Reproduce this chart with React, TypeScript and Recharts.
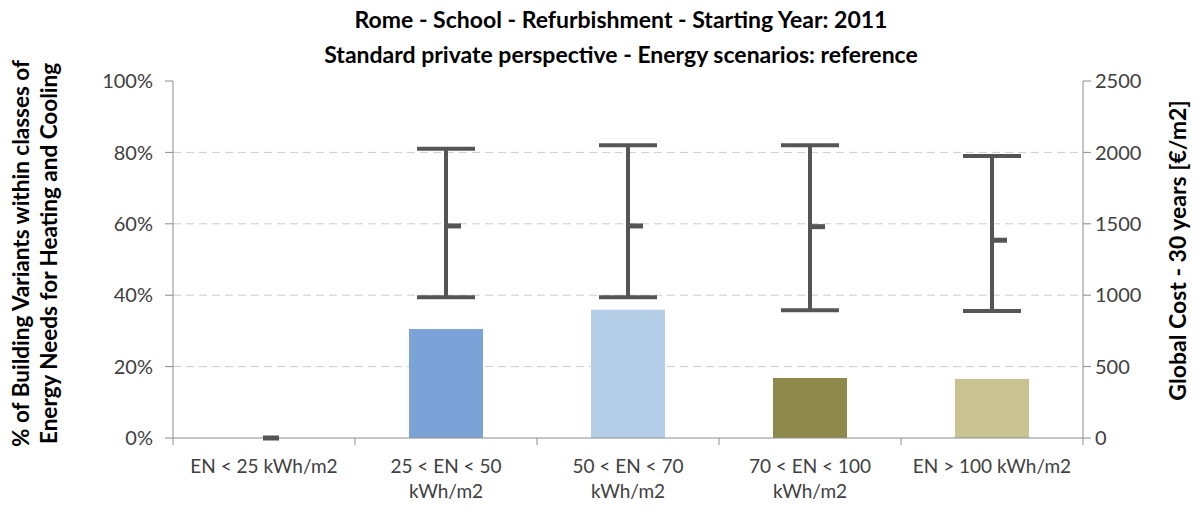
import React from 'react';
import { ComposedChart, Bar, Line, Cell, XAxis, YAxis, CartesianGrid, ErrorBar } from 'recharts';

// energy need classes (x axis)
const categories = ['EN < 25 kWh/m2', '25 < EN < 50 kWh/m2', '50 < EN < 70 kWh/m2', '70 < EN < 100 kWh/m2', 'EN > 100 kWh/m2'];
const tickLines = [['EN < 25 kWh/m2'], ['25 < EN < 50', 'kWh/m2'], ['50 < EN < 70', 'kWh/m2'], ['70 < EN < 100', 'kWh/m2'], ['EN > 100 kWh/m2']];

// % of building variants (left axis)
const sharePct = [0, 30.5, 35.9, 16.8, 16.5];
// global cost 30 years (right axis)
const costMean = [0, 1485, 1485, 1480, 1385];
const costMin = [null, 985, 985, 895, 890];
const costMax = [null, 2025, 2050, 2050, 1975];

const barColors = ['#8a8a8a', '#7ba3d8', '#b5cfe9', '#8e8a4b', '#c8c391'];
const leftTicks = [0, 20, 40, 60, 80, 100];
const rightTicks = [0, 500, 1000, 1500, 2000, 2500];

const FONT = 'Lato, "Open Sans", sans-serif';
const TEXT = '#404040';
const AXIS = '#8c8c8c';

const W = 1200;
const H = 518;
const MARGIN = { top: 81, right: 57, bottom: 20, left: 113 };
const Y_AXIS_W = 60;
const PLOT_W = W - MARGIN.left - MARGIN.right - 2 * Y_AXIS_W;

const data = categories.map((c, i) => ({
  cat: c,
  share: sharePct[i],
  mean: costMean[i],
  err: costMin[i] == null ? undefined : [costMean[i] - (costMin[i] as number), (costMax[i] as number) - costMean[i]],
}));

// category label plus the Excel style tick marks between categories
const CatTick = (props: any) => {
  const { x, y, payload, index } = props;
  const lines = tickLines[payload.index] || [payload.value];
  const half = PLOT_W / categories.length / 2;
  const y0 = MARGIN.top + (H - MARGIN.top - MARGIN.bottom - 60);
  return (
    <g>
      <line x1={x - half} x2={x - half} y1={y0} y2={y0 + 7} stroke={AXIS} />
      {index === categories.length - 1 && <line x1={x + half} x2={x + half} y1={y0} y2={y0 + 7} stroke={AXIS} />}
      <text x={x} y={y} textAnchor="middle" fill={TEXT} fontSize={19} fontFamily={FONT}>
        {lines.map((l, i) => (
          <tspan key={i} x={x} dy={i === 0 ? 27 : 25}>{l}</tspan>
        ))}
      </text>
    </g>
  );
};

// small dash marker for the mean, drawn right of the bar centre
const MeanDash = (props: any) => {
  const { cx, cy } = props;
  if (cx == null || cy == null) return null;
  return <rect x={cx - 1} y={cy - 2.5} width={16} height={5} fill="#555555" />;
};

const LeftLabel = (props: any) => {
  const vb = props.viewBox || {};
  const cy = vb.y + vb.height / 2 - 6;
  return (
    <g>
      <text transform={`translate(29 ${cy}) rotate(-90)`} textAnchor="middle" fontSize={22.5} fontWeight="bold" fontFamily={FONT} fill="#000">
        % of Building Variants within classes of
      </text>
      <text transform={`translate(57 ${cy}) rotate(-90)`} textAnchor="middle" fontSize={22.5} fontWeight="bold" fontFamily={FONT} fill="#000">
        Energy Needs for Heating and Cooling
      </text>
    </g>
  );
};

const RightLabel = (props: any) => {
  const vb = props.viewBox || {};
  const cy = vb.y + vb.height / 2 - 9;
  return (
    <text transform={`translate(1186 ${cy}) rotate(-90)`} textAnchor="middle" fontSize={23} fontWeight="bold" fontFamily={FONT} fill="#000">
      Global Cost - 30 years [€/m2]
    </text>
  );
};

const App: React.FC = () => {
  return (
    <div style={{ position: 'absolute', left: 0, top: 0, width: W, height: H, background: '#fff', fontFamily: FONT }}>
      <div style={{ position: 'absolute', left: 0, top: 2, width: 1242, textAlign: 'center', fontWeight: 'bold', fontSize: 23, lineHeight: '35px', color: '#000' }}>
        <div>Rome - School - Refurbishment - Starting Year: 2011</div>
        <div>Standard private perspective - Energy scenarios: reference</div>
      </div>
      <ComposedChart width={W} height={H} data={data} margin={MARGIN}>
        <CartesianGrid xAxisId="cat" yAxisId="left" vertical={false} horizontalValues={[20, 40, 60, 80]} stroke="#cccccc" strokeDasharray="8 5" />
        <XAxis xAxisId="cat" dataKey="cat" height={60} axisLine={{ stroke: AXIS }} tickLine={false} tick={<CatTick />} interval={0} />
        <YAxis yAxisId="left" width={Y_AXIS_W} domain={[0, 100]} ticks={leftTicks} tickFormatter={(v) => `${v}%`} axisLine={{ stroke: AXIS }} tickLine={{ stroke: AXIS }} tickSize={8} tickMargin={12} tick={{ fill: TEXT, fontSize: 20, fontFamily: FONT }} label={<LeftLabel />} />
        <YAxis yAxisId="right" orientation="right" width={Y_AXIS_W} domain={[0, 2500]} ticks={rightTicks} axisLine={{ stroke: AXIS }} tickLine={{ stroke: AXIS }} tickSize={8} tickMargin={4} tick={{ fill: TEXT, fontSize: 20, fontFamily: FONT, textAnchor: 'start' }} label={<RightLabel />} />
        <Bar xAxisId="cat" yAxisId="left" dataKey="share" barSize={74} isAnimationActive={false}>
          {data.map((d, i) => (
            <Cell key={d.cat} fill={barColors[i]} />
          ))}
        </Bar>
        <Line xAxisId="cat" yAxisId="right" dataKey="mean" stroke="none" strokeWidth={0} dot={<MeanDash />} activeDot={false} isAnimationActive={false}>
          <ErrorBar dataKey="err" direction="y" width={29} stroke="#555555" strokeWidth={4} />
        </Line>
      </ComposedChart>
    </div>
  );
};

export default App;
